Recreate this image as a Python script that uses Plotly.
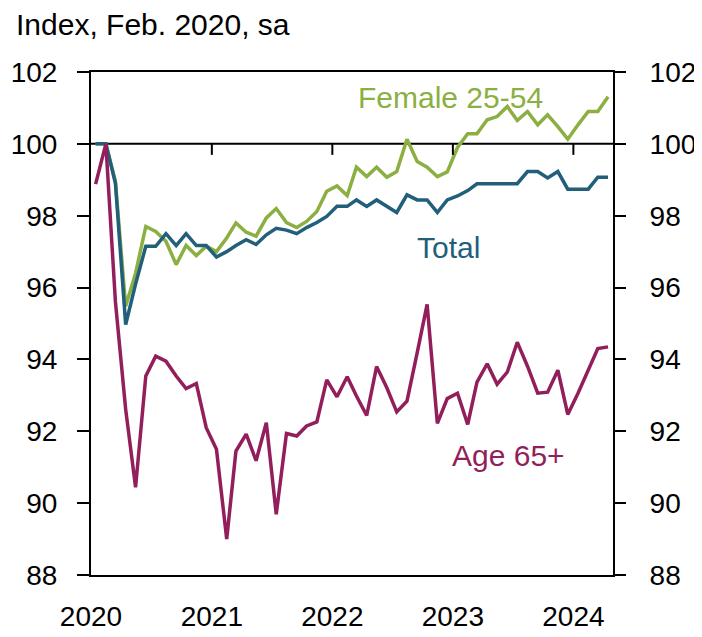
import pandas as pd
import plotly.graph_objects as go

months = pd.date_range("2020-01-01", periods=52, freq="MS") + pd.Timedelta(days=14)

female_25_54 = [100.0, 100.0, 98.95, 95.48, 96.4, 97.7, 97.56, 97.29, 96.64, 97.17, 96.89, 97.15,
                97.0, 97.38, 97.8, 97.54, 97.43, 97.94, 98.2, 97.81, 97.67, 97.84, 98.12, 98.68,
                98.83, 98.56, 99.35, 99.09, 99.35, 99.07, 99.23, 100.13, 99.51, 99.35, 99.09, 99.22,
                99.9, 100.28, 100.28, 100.67, 100.76, 101.04, 100.65, 100.9, 100.53, 100.81, 100.48, 100.13,
                100.53, 100.9, 100.9, 101.31]
total = [100.0, 100.0, 98.9, 94.97, 96.1, 97.15, 97.15, 97.5, 97.17, 97.5, 97.17, 97.17,
         96.85, 97.0, 97.17, 97.33, 97.2, 97.47, 97.65, 97.6, 97.5, 97.67, 97.81, 97.98,
         98.26, 98.26, 98.44, 98.26, 98.44, 98.26, 98.09, 98.58, 98.44, 98.44, 98.09, 98.44,
         98.55, 98.7, 98.89, 98.89, 98.89, 98.89, 98.89, 99.23, 99.23, 99.05, 99.23, 98.74,
         98.74, 98.74, 99.07, 99.07]
age_65_plus = [98.88, 100.0, 95.6, 92.61, 90.44, 93.54, 94.09, 93.95, 93.54, 93.19, 93.33, 92.1,
               91.5, 89.0, 91.45, 91.92, 91.18, 92.24, 89.69, 91.94, 91.87, 92.15, 92.26, 93.43,
               92.96, 93.52, 92.98, 92.44, 93.8, 93.21, 92.54, 92.84, 94.19, 95.53, 92.22, 92.91,
               93.06, 92.19, 93.37, 93.88, 93.31, 93.65, 94.48, 93.81, 93.06, 93.09, 93.7, 92.47,
               93.06, 93.68, 94.3, 94.35]

series_names = ["Female 25-54", "Total", "Age 65+"]
colors = ["#8BAF41", "#215F7B", "#921F5B"]
y_ticks = [88, 90, 92, 94, 96, 98, 100, 102]
year_ticks = ["2021-01-01", "2022-01-01", "2023-01-01", "2024-01-01"]
ref_level = 100

FONT = "Liberation Sans, Arial, sans-serif"
x_range = ["2020-01-01", "2024-04-30"]

fig = go.Figure()
for name, vals, col in zip(series_names, [female_25_54, total, age_65_plus], colors):
    fig.add_trace(go.Scatter(x=months, y=vals, mode="lines", name=name,
                             line=dict(color=col, width=3.5), showlegend=False))
# dummy trace for the right-hand y axis
fig.add_trace(go.Scatter(x=months, y=[None] * len(months), yaxis="y2",
                         showlegend=False, hoverinfo="skip"))

# reference line at 100 with year ticks hanging below it
fig.add_shape(type="line", xref="paper", yref="y", x0=0, x1=1, y0=ref_level, y1=ref_level,
              line=dict(color="black", width=2), layer="below")
for d in year_ticks:
    fig.add_shape(type="line", xref="x", yref="y", x0=d, x1=d, ysizemode="pixel",
                  yanchor=ref_level, y0=0, y1=-11, line=dict(color="black", width=2))

fig.update_layout(
    width=694, height=629,
    margin=dict(l=83, r=89, t=64, b=62, autoexpand=False),
    plot_bgcolor="white", paper_bgcolor="white",
    font=dict(family=FONT, size=28, color="black"),
    xaxis=dict(range=x_range, type="date", dtick="M12", tick0="2020-01-01", tickformat="%Y",
               showline=True, linecolor="black", linewidth=2, mirror=True, automargin=False,
               ticks="", showgrid=False, zeroline=False, ticklabelstandoff=15,
               tickfont=dict(size=28)),
    yaxis=dict(range=[88, 102], tickvals=y_ticks, showline=True, linecolor="black", linewidth=2,
               ticks="outside", ticklen=12, tickwidth=2, tickcolor="black", automargin=False,
               showgrid=False, zeroline=False, ticklabelstandoff=14, tickfont=dict(size=28)),
    yaxis2=dict(range=[88, 102], tickvals=y_ticks, overlaying="y", side="right", anchor="x",
                showline=True, linecolor="black", linewidth=2, automargin=False,
                ticks="outside", ticklen=11, tickwidth=2, tickcolor="black",
                showgrid=False, zeroline=False, ticklabelstandoff=18, tickfont=dict(size=28)),
)

fig.add_annotation(text="Index, Feb. 2020, sa", xref="paper", yref="paper",
                   x=-0.1456, y=1.0954, xanchor="left", yanchor="middle", borderpad=0,
                   showarrow=False, font=dict(size=30, color="black"))
label_pos = [("2022-12-24", 101.29), ("2022-12-18", 97.11), ("2023-06-17", 91.33)]
for name, col, (lx, ly) in zip(series_names, colors, label_pos):
    fig.add_annotation(text=name, x=lx, y=ly, xanchor="center", yanchor="middle",
                       showarrow=False, font=dict(size=30, color=col))

fig.write_html("out.html")
